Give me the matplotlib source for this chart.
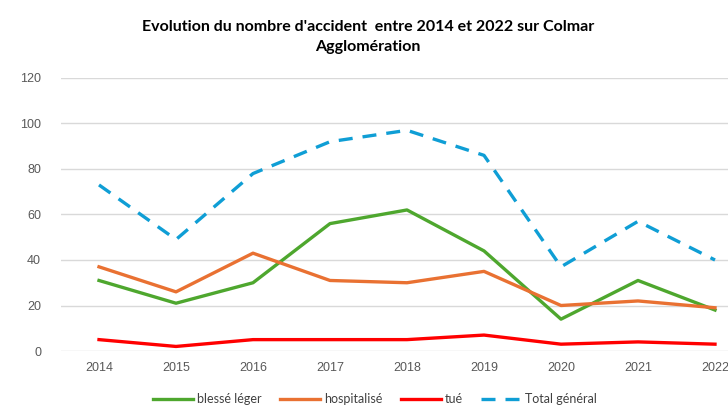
import matplotlib
matplotlib.use("Agg")
import matplotlib.pyplot as plt

years = ["2014", "2015", "2016", "2017", "2018", "2019", "2020", "2021", "2022"]
blesse_leger = [31, 21, 30, 56, 62, 44, 14, 31, 18]
hospitalise = [37, 26, 43, 31, 30, 35, 20, 22, 19]
tue = [5, 2, 5, 5, 5, 7, 3, 4, 3]
total = [73, 49, 78, 92, 97, 86, 37, 57, 40]

fig = plt.figure(figsize=(7.28, 4.07), dpi=100)
ax = fig.add_axes([60.5 / 728, 1 - 351 / 407, 693 / 728, (351 - 78) / 407])

x = list(range(len(years)))
lw = 2.4
ax.plot(x, blesse_leger, color="#4EA72E", lw=lw, label="blessé léger", zorder=3)
ax.plot(x, hospitalise, color="#E97132", lw=lw, label="hospitalisé", zorder=3)
ax.plot(x, tue, color="#FF0000", lw=lw, label="tué", zorder=3)
ax.plot(x, total, color="#0F9ED5", lw=lw, label="Total général", zorder=3,
        dashes=(4.2, 3.0))

ax.set_xlim(-0.5, 8.5)
ax.set_ylim(0, 120)
ax.set_yticks(range(0, 121, 20))
ax.set_xticks(x)
ax.set_xticklabels(years)
ax.yaxis.grid(True, color="#D9D9D9", lw=1.0, zorder=0)
ax.set_axisbelow(True)
for s in ax.spines.values():
    s.set_visible(False)
ax.tick_params(length=0, labelsize=9, labelcolor="#595959", pad=8)
for lab in ax.get_xticklabels() + ax.get_yticklabels():
    lab.set_family("Liberation Sans")
ax.tick_params(axis="y", pad=14)

fig.text(368 / 728, 1 - 37 / 407,
         "Evolution du nombre d'accident  entre 2014 et 2022 sur Colmar\nAgglomération",
         ha="center", va="center", fontsize=11.5, fontweight="bold",
         family="Lato", color="#000000", linespacing=1.6)

leg = fig.legend(loc="center", bbox_to_anchor=(375 / 728, 1 - 399 / 407), ncol=4,
                 frameon=False, prop={"family": "Lato", "size": 9},
                 handlelength=3.2, columnspacing=1.5, handletextpad=0.3)
for t in leg.get_texts():
    t.set_color("#404040")

fig.savefig("out.png", dpi=100)
